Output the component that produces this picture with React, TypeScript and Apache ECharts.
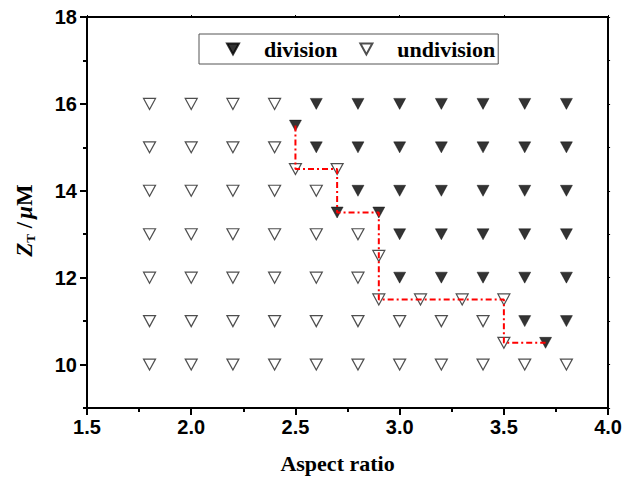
import React, { useEffect, useRef } from "react";
import * as echarts from "echarts";

const divisionPoints: number[][] = [
  [2.6, 16], [2.8, 16], [3.0, 16], [3.2, 16], [3.4, 16], [3.6, 16], [3.8, 16],
  [2.6, 15], [2.8, 15], [3.0, 15], [3.2, 15], [3.4, 15], [3.6, 15], [3.8, 15],
  [2.8, 14], [3.0, 14], [3.2, 14], [3.4, 14], [3.6, 14], [3.8, 14],
  [3.0, 13], [3.2, 13], [3.4, 13], [3.6, 13], [3.8, 13],
  [3.0, 12], [3.2, 12], [3.4, 12], [3.6, 12], [3.8, 12],
  [3.6, 11], [3.8, 11],
  [2.5, 15.5], [2.7, 13.5], [2.9, 13.5], [3.7, 10.5],
];

const undivisionPoints: number[][] = [
  [1.8, 16], [2.0, 16], [2.2, 16], [2.4, 16],
  [1.8, 15], [2.0, 15], [2.2, 15], [2.4, 15],
  [1.8, 14], [2.0, 14], [2.2, 14], [2.4, 14], [2.6, 14],
  [1.8, 13], [2.0, 13], [2.2, 13], [2.4, 13], [2.6, 13], [2.8, 13],
  [1.8, 12], [2.0, 12], [2.2, 12], [2.4, 12], [2.6, 12], [2.8, 12],
  [1.8, 11], [2.0, 11], [2.2, 11], [2.4, 11], [2.6, 11], [2.8, 11], [3.0, 11], [3.2, 11], [3.4, 11],
  [1.8, 10], [2.0, 10], [2.2, 10], [2.4, 10], [2.6, 10], [2.8, 10], [3.0, 10], [3.2, 10], [3.4, 10], [3.6, 10], [3.8, 10],
  [2.5, 14.5], [2.7, 14.5], [2.9, 12.5], [2.9, 11.5], [3.1, 11.5], [3.3, 11.5], [3.5, 11.5], [3.5, 10.5],
];

const boundaryLine: number[][] = [
  [2.5, 15.5], [2.5, 14.5], [2.7, 14.5], [2.7, 13.5], [2.9, 13.5],
  [2.9, 11.5], [3.5, 11.5], [3.5, 10.5], [3.7, 10.5],
];

const yMajorTicks = [10, 12, 14, 16, 18];
const yMinorTicks = [9, 11, 13, 15, 17];

const TRI = "path://M0,0L10,0L5,9Z";

export default function App() {
  const ref = useRef<HTMLDivElement>(null);
  useEffect(() => {
    if (!ref.current) return;
    const chart = echarts.init(ref.current, null, { renderer: "svg" });
    const labelFont = {
      fontFamily: "Liberation Sans, Arial, sans-serif",
      fontWeight: "bold" as const,
      fontSize: 20,
      color: "#000",
    };
    const serif = "Liberation Serif, Times New Roman, serif";
    chart.setOption({
      animation: false,
      backgroundColor: "#fff",
      grid: { left: 87, right: 16, top: 17, bottom: 69 },
      legend: {
        left: 199,
        top: 34,
        orient: "horizontal",
        borderColor: "#555",
        borderWidth: 1,
        padding: [4, 3, 4, 27],
        itemGap: 22,
        itemWidth: 12,
        itemHeight: 11,
        textStyle: {
          fontFamily: serif,
          fontWeight: "bold",
          fontSize: 22,
          color: "#000",
          padding: [0, 0, 0, 20],
        },
        data: [
          { name: "division", icon: TRI },
          { name: "undivision", icon: TRI },
        ],
      },
      xAxis: [
        {
          type: "value",
          min: 1.5,
          max: 4.0,
          interval: 0.5,
          name: "Aspect ratio",
          nameLocation: "middle",
          nameGap: 44,
          nameTextStyle: { fontFamily: serif, fontWeight: "bold", fontSize: 22, color: "#000", padding: [0, 20, 0, 0] },
          axisLine: { show: true, onZero: false, lineStyle: { color: "#000", width: 2 } },
          axisTick: { show: true, inside: false, length: 7, lineStyle: { color: "#000", width: 2 } },
          minorTick: { show: true, splitNumber: 2, length: 4, lineStyle: { color: "#000", width: 2 } },
          splitLine: { show: false },
          axisLabel: { ...labelFont, margin: 9, formatter: (v: number) => v.toFixed(1) },
        },
        {
          type: "value",
          position: "top",
          min: 1.5,
          max: 4.0,
          interval: 0.5,
          axisLine: { show: true, onZero: false, lineStyle: { color: "#000", width: 2 } },
          axisTick: { show: true, length: 2, lineStyle: { color: "#000", width: 1 } },
          minorTick: { show: true, splitNumber: 2, length: 1, lineStyle: { color: "#000" } },
          splitLine: { show: false },
          axisLabel: { show: false },
        },
      ],
      yAxis: [
        {
          type: "value",
          min: 9,
          max: 18,
          interval: 1,
          name: "{z|Z}{t|T}{s| /}{mu|μ}{m|M}",
          nameLocation: "middle",
          nameRotate: 90,
          nameGap: 50,
          nameTextStyle: {
            fontFamily: serif,
            fontWeight: "bold",
            fontSize: 23,
            color: "#000",
            padding: [0, 16, 0, 0],
            rich: {
              z: { fontFamily: serif, fontWeight: "bold", fontStyle: "italic", fontSize: 23, color: "#000" },
              t: { fontFamily: serif, fontWeight: "bold", fontSize: 13, color: "#000", padding: [12, 0, 0, 0] },
              s: { fontFamily: serif, fontWeight: "bold", fontSize: 23, color: "#000", padding: [0, 3, 0, 0] },
              mu: { fontFamily: serif, fontWeight: "bold", fontStyle: "italic", fontSize: 23, color: "#000" },
              m: { fontFamily: serif, fontWeight: "bold", fontSize: 23, color: "#000" },
            },
          },
          axisLine: { show: true, onZero: false, lineStyle: { color: "#000", width: 2 } },
          axisTick: { show: true, length: 7, customValues: yMajorTicks, lineStyle: { color: "#000", width: 2 } },
          splitLine: { show: false },
          axisLabel: { ...labelFont, margin: 10, customValues: yMajorTicks },
        },
        {
          type: "value",
          position: "left",
          min: 9,
          max: 18,
          interval: 1,
          axisLine: { show: false },
          axisTick: { show: true, length: 4, customValues: yMinorTicks, lineStyle: { color: "#000", width: 2 } },
          splitLine: { show: false },
          axisLabel: { show: false },
        },
        {
          type: "value",
          position: "right",
          min: 9,
          max: 18,
          interval: 1,
          axisLine: { show: true, onZero: false, lineStyle: { color: "#000", width: 2 } },
          axisTick: { show: true, length: 2, lineStyle: { color: "#000", width: 1 } },
          splitLine: { show: false },
          axisLabel: { show: false },
        },
      ],
      series: [
        {
          name: "division",
          type: "scatter",
          data: divisionPoints,
          symbol: TRI,
          symbolSize: [12, 11],
          itemStyle: { color: "#000", borderColor: "#000", borderWidth: 0.5 },
          z: 2,
        },
        {
          name: "undivision",
          type: "scatter",
          data: undivisionPoints,
          symbol: TRI,
          symbolSize: [12, 11],
          itemStyle: { color: "#fff", borderColor: "#222", borderWidth: 1.2 },
          z: 2,
        },
        {
          name: "boundary",
          type: "line",
          data: boundaryLine,
          symbol: "none",
          lineStyle: { color: "#ff0000", width: 2, type: [6, 3, 2, 3] },
          z: 3,
        },
      ],
    });
    return () => chart.dispose();
  }, []);
  return (
    <div
      ref={ref}
      style={{ position: "fixed", left: 0, top: 0, width: 625, height: 479 }}
    />
  );
}
